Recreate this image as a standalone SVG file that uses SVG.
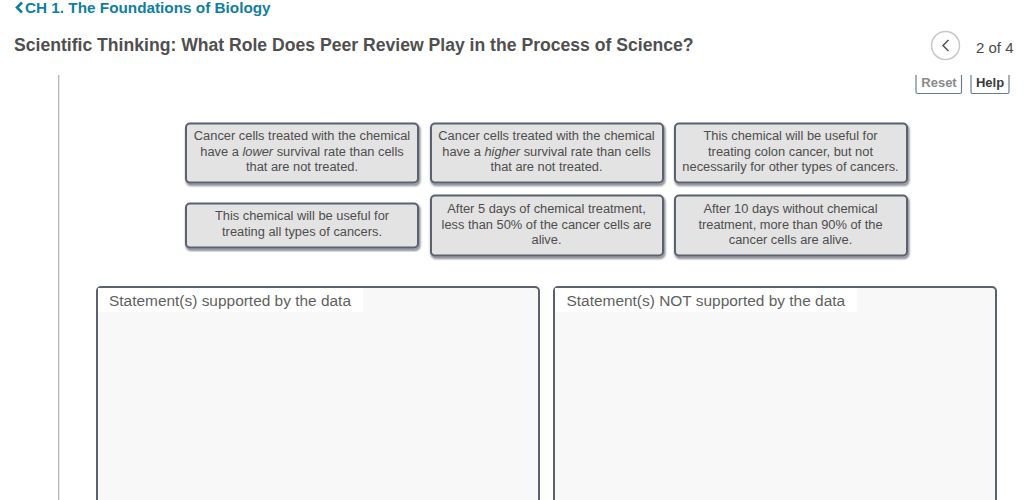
<svg xmlns="http://www.w3.org/2000/svg" width="1024" height="500" viewBox="0 0 1024 500">
<defs>
<filter id="blur" x="-5%" y="-5%" width="110%" height="110%"><feGaussianBlur stdDeviation="0.9"/></filter>
</defs>
<style>
text{font-family:"Liberation Sans",Arial,sans-serif}
.card{fill:#e3e3e3;stroke:#5c6170;stroke-width:2}
.shadow{fill:none;stroke:#6f727c;stroke-width:2.500;filter:url(#blur)}
.ct{font-size:12.85px;fill:#4d4d4d;text-anchor:middle}
.zone{fill:#f8f8f8;stroke:#5c6170;stroke-width:2}
.lab{fill:#fff}
.zt{font-size:15.45px;fill:#5f5f5f}
</style>
<rect width="1024" height="500" fill="#fff"/>
<g id="breadcrumb">
<path d="M22 2.500 L17 7.500 L22 12.500" fill="none" stroke="#0f7f9f" stroke-width="2.600"/>
<text x="25" y="12.500" font-size="15.3" font-weight="bold" fill="#0f7f9f">CH 1. The Foundations of Biology</text>
</g>
<g id="title"><text x="14" y="51" font-size="17.6" font-weight="bold" fill="#4f4f4f">Scientific Thinking: What Role Does Peer Review Play in the Process of Science?</text></g>
<g id="pager">
<circle cx="945.500" cy="45.500" r="14" fill="#fff" stroke="#c8c8c8" stroke-width="1.500"/>
<path d="M948.500 40 L943 45.500 L948.500 51" fill="none" stroke="#555" stroke-width="1.600"/>
<text x="976" y="52.500" font-size="15" fill="#4a4a4a">2 of 4</text>
</g>
<g id="reset">
<path d="M916 75 V92 Q916 93.500 917.500 93.500 H960 Q961.500 93.500 961.500 92 V75" fill="none" stroke="#6e7f8c" stroke-width="1.200"/>
<text x="939" y="87" font-size="13" font-weight="bold" fill="#8a8a8a" text-anchor="middle">Reset</text>
</g>
<g id="help">
<path d="M971 75 V92 Q971 93.500 972.500 93.500 H1007.500 Q1009 93.500 1009 92 V75" fill="none" stroke="#6e7f8c" stroke-width="1.200"/>
<text x="990" y="87" font-size="13" font-weight="bold" fill="#3a3a3a" text-anchor="middle">Help</text>
</g>
<g id="divider"><rect x="58" y="75" width="1.300" height="425" fill="#b5b5b5"/></g>

<g id="card1">
<rect class="shadow" x="187" y="125.500" width="232" height="59" rx="4"/>
<rect class="card" x="186" y="123.500" width="232" height="59" rx="4"/>
<text class="ct" x="302" y="140">Cancer cells treated with the chemical</text>
<text class="ct" x="302" y="156">have a <tspan font-style="italic">lower</tspan> survival rate than cells</text>
<text class="ct" x="302" y="171">that are not treated.</text>
</g>
<g id="card2">
<rect class="shadow" x="432" y="125.500" width="232" height="59" rx="4"/>
<rect class="card" x="431" y="123.500" width="232" height="59" rx="4"/>
<text class="ct" x="546.500" y="140">Cancer cells treated with the chemical</text>
<text class="ct" x="546.500" y="156">have a <tspan font-style="italic">higher</tspan> survival rate than cells</text>
<text class="ct" x="546.500" y="171">that are not treated.</text>
</g>
<g id="card3">
<rect class="shadow" x="676" y="125.500" width="232" height="59" rx="4"/>
<rect class="card" x="675" y="123.500" width="232" height="59" rx="4"/>
<text class="ct" x="790.500" y="140">This chemical will be useful for</text>
<text class="ct" x="790.500" y="156">treating colon cancer, but not</text>
<text class="ct" x="790.500" y="171">necessarily for other types of cancers.</text>
</g>
<g id="card4">
<rect class="shadow" x="187" y="205.500" width="232" height="44" rx="4"/>
<rect class="card" x="186" y="203.500" width="232" height="44" rx="4"/>
<text class="ct" x="302" y="220">This chemical will be useful for</text>
<text class="ct" x="302" y="236">treating all types of cancers.</text>
</g>
<g id="card5">
<rect class="shadow" x="432" y="197.500" width="232" height="60" rx="4"/>
<rect class="card" x="431" y="195.500" width="232" height="60" rx="4"/>
<text class="ct" x="546.500" y="213">After 5 days of chemical treatment,</text>
<text class="ct" x="546.500" y="229">less than 50% of the cancer cells are</text>
<text class="ct" x="546.500" y="244">alive.</text>
</g>
<g id="card6">
<rect class="shadow" x="676" y="197.500" width="232" height="60" rx="4"/>
<rect class="card" x="675" y="195.500" width="232" height="60" rx="4"/>
<text class="ct" x="790.500" y="213">After 10 days without chemical</text>
<text class="ct" x="790.500" y="229">treatment, more than 90% of the</text>
<text class="ct" x="790.500" y="244">cancer cells are alive.</text>
</g>

<g id="zone1">
<rect class="zone" x="97" y="287" width="442" height="230" rx="4"/>
<rect class="lab" x="98" y="288" width="265" height="24"/>
<text class="zt" x="109" y="306">Statement(s) supported by the data</text>
</g>
<g id="zone2">
<rect class="zone" x="554" y="287" width="442" height="230" rx="4"/>
<rect class="lab" x="555" y="288" width="302" height="24"/>
<text class="zt" x="566.500" y="306">Statement(s) NOT supported by the data</text>
</g>
<g id="connectors"/>
</svg>
